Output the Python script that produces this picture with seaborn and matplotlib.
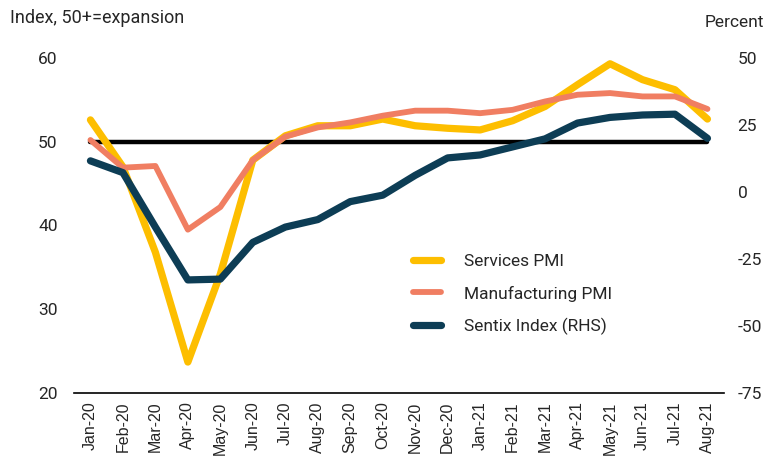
import matplotlib
matplotlib.use("Agg")
import matplotlib.pyplot as plt
from matplotlib.ticker import FixedLocator
import seaborn as sns
import pandas as pd

months = ["Jan-20", "Feb-20", "Mar-20", "Apr-20", "May-20", "Jun-20", "Jul-20",
          "Aug-20", "Sep-20", "Oct-20", "Nov-20", "Dec-20", "Jan-21", "Feb-21",
          "Mar-21", "Apr-21", "May-21", "Jun-21", "Jul-21", "Aug-21"]
services_pmi = [52.6, 47.0, 36.8, 23.7, 34.2, 47.8, 50.7, 51.9, 51.9, 52.7,
                51.9, 51.6, 51.4, 52.5, 54.2, 56.8, 59.3, 57.4, 56.2, 52.7]
manufacturing_pmi = [50.2, 46.9, 47.1, 39.5, 42.2, 47.8, 50.6, 51.7, 52.3, 53.1,
                     53.7, 53.7, 53.4, 53.8, 54.8, 55.6, 55.8, 55.4, 55.4, 53.9]
sentix_index = [11.6, 7.2, -13.1, -32.8, -32.5, -18.8, -13.1, -10.3, -3.6, -1.2,
                6.2, 12.7, 13.8, 16.8, 19.8, 25.7, 27.8, 28.7, 29.0, 20.0]
left_ticks = [20, 30, 40, 50, 60]
right_ticks = [-75, -50, -25, 0, 25, 50]
threshold = 50

df = pd.DataFrame({
    "pos": range(len(months)),
    "month": months,
    "Services PMI": services_pmi,
    "Manufacturing PMI": manufacturing_pmi,
    "Sentix Index (RHS)": sentix_index,
})

sns.set_theme(style="white")
plt.rcParams["font.family"] = ["Roboto", "DejaVu Sans"]
plt.rcParams["axes.unicode_minus"] = False

YELLOW = "#FDBE00"
ORANGE = "#F07E62"
NAVY = "#0D3D55"

fig = plt.figure(figsize=(7.65, 4.63), dpi=100)
ax = fig.add_axes([0.097, 0.151, 0.849, 0.724])
ax2 = ax.twinx()

# 50 = expansion threshold
ax.plot([0, len(months) - 1], [threshold, threshold], color="black", lw=3.2,
        solid_capstyle="round", zorder=2)

sns.lineplot(data=df, x="pos", y="Services PMI", ax=ax, color=YELLOW, lw=5.2,
             label="Services PMI", legend=False, zorder=3)
sns.lineplot(data=df, x="pos", y="Manufacturing PMI", ax=ax, color=ORANGE, lw=4.2,
             label="Manufacturing PMI", legend=False, zorder=4)
sns.lineplot(data=df, x="pos", y="Sentix Index (RHS)", ax=ax2, color=NAVY, lw=5.2,
             label="Sentix Index (RHS)", legend=False, zorder=5)
for a in (ax, ax2):
    for ln in a.get_lines():
        ln.set_solid_capstyle("round")
        ln.set_solid_joinstyle("round")

ax.set_xlim(-0.5, len(months) - 0.5)
ax.set_ylim(20, 60)
ax2.set_ylim(-75, 50)
ax.set_yticks(left_ticks)
ax2.set_yticks(right_ticks)
ax.set_xticks(range(len(months)))
ax.set_xticklabels(months, rotation=90, fontsize=11.5, family="Liberation Sans")
ax.xaxis.set_minor_locator(FixedLocator([i - 0.5 for i in range(len(months) + 1)]))
ax.tick_params(axis="x", which="major", length=0, pad=6)
ax.tick_params(axis="x", which="minor", direction="in", length=4, width=1.2, color="black")
ax.tick_params(axis="y", length=0, labelsize=12.5, pad=12)
ax2.tick_params(axis="y", length=0, labelsize=12.5, pad=10)

for a in (ax, ax2):
    a.set_xlabel("")
    a.set_ylabel("")
    a.grid(False)
    for side in ("top", "left", "right", "bottom"):
        a.spines[side].set_visible(False)
ax.spines["bottom"].set_visible(True)
ax.spines["bottom"].set_color("black")
ax.spines["bottom"].set_linewidth(1.2)
ax.set_facecolor("none")

fig.text(0.013, 0.962, "Index, 50+=expansion", fontsize=13, ha="left", va="center")
fig.text(0.999, 0.952, "Percent", fontsize=12.5, ha="right", va="center")

handles = ax.get_lines()[1:3] + ax2.get_lines()[:1]
ax2.legend(handles, [h.get_label() for h in handles], loc="upper left",
           bbox_to_anchor=(0.498, 0.461), frameon=False, fontsize=12.5,
           handlelength=1.6, handletextpad=1.3, labelspacing=0.93)

fig.savefig("out.png", dpi=100)
